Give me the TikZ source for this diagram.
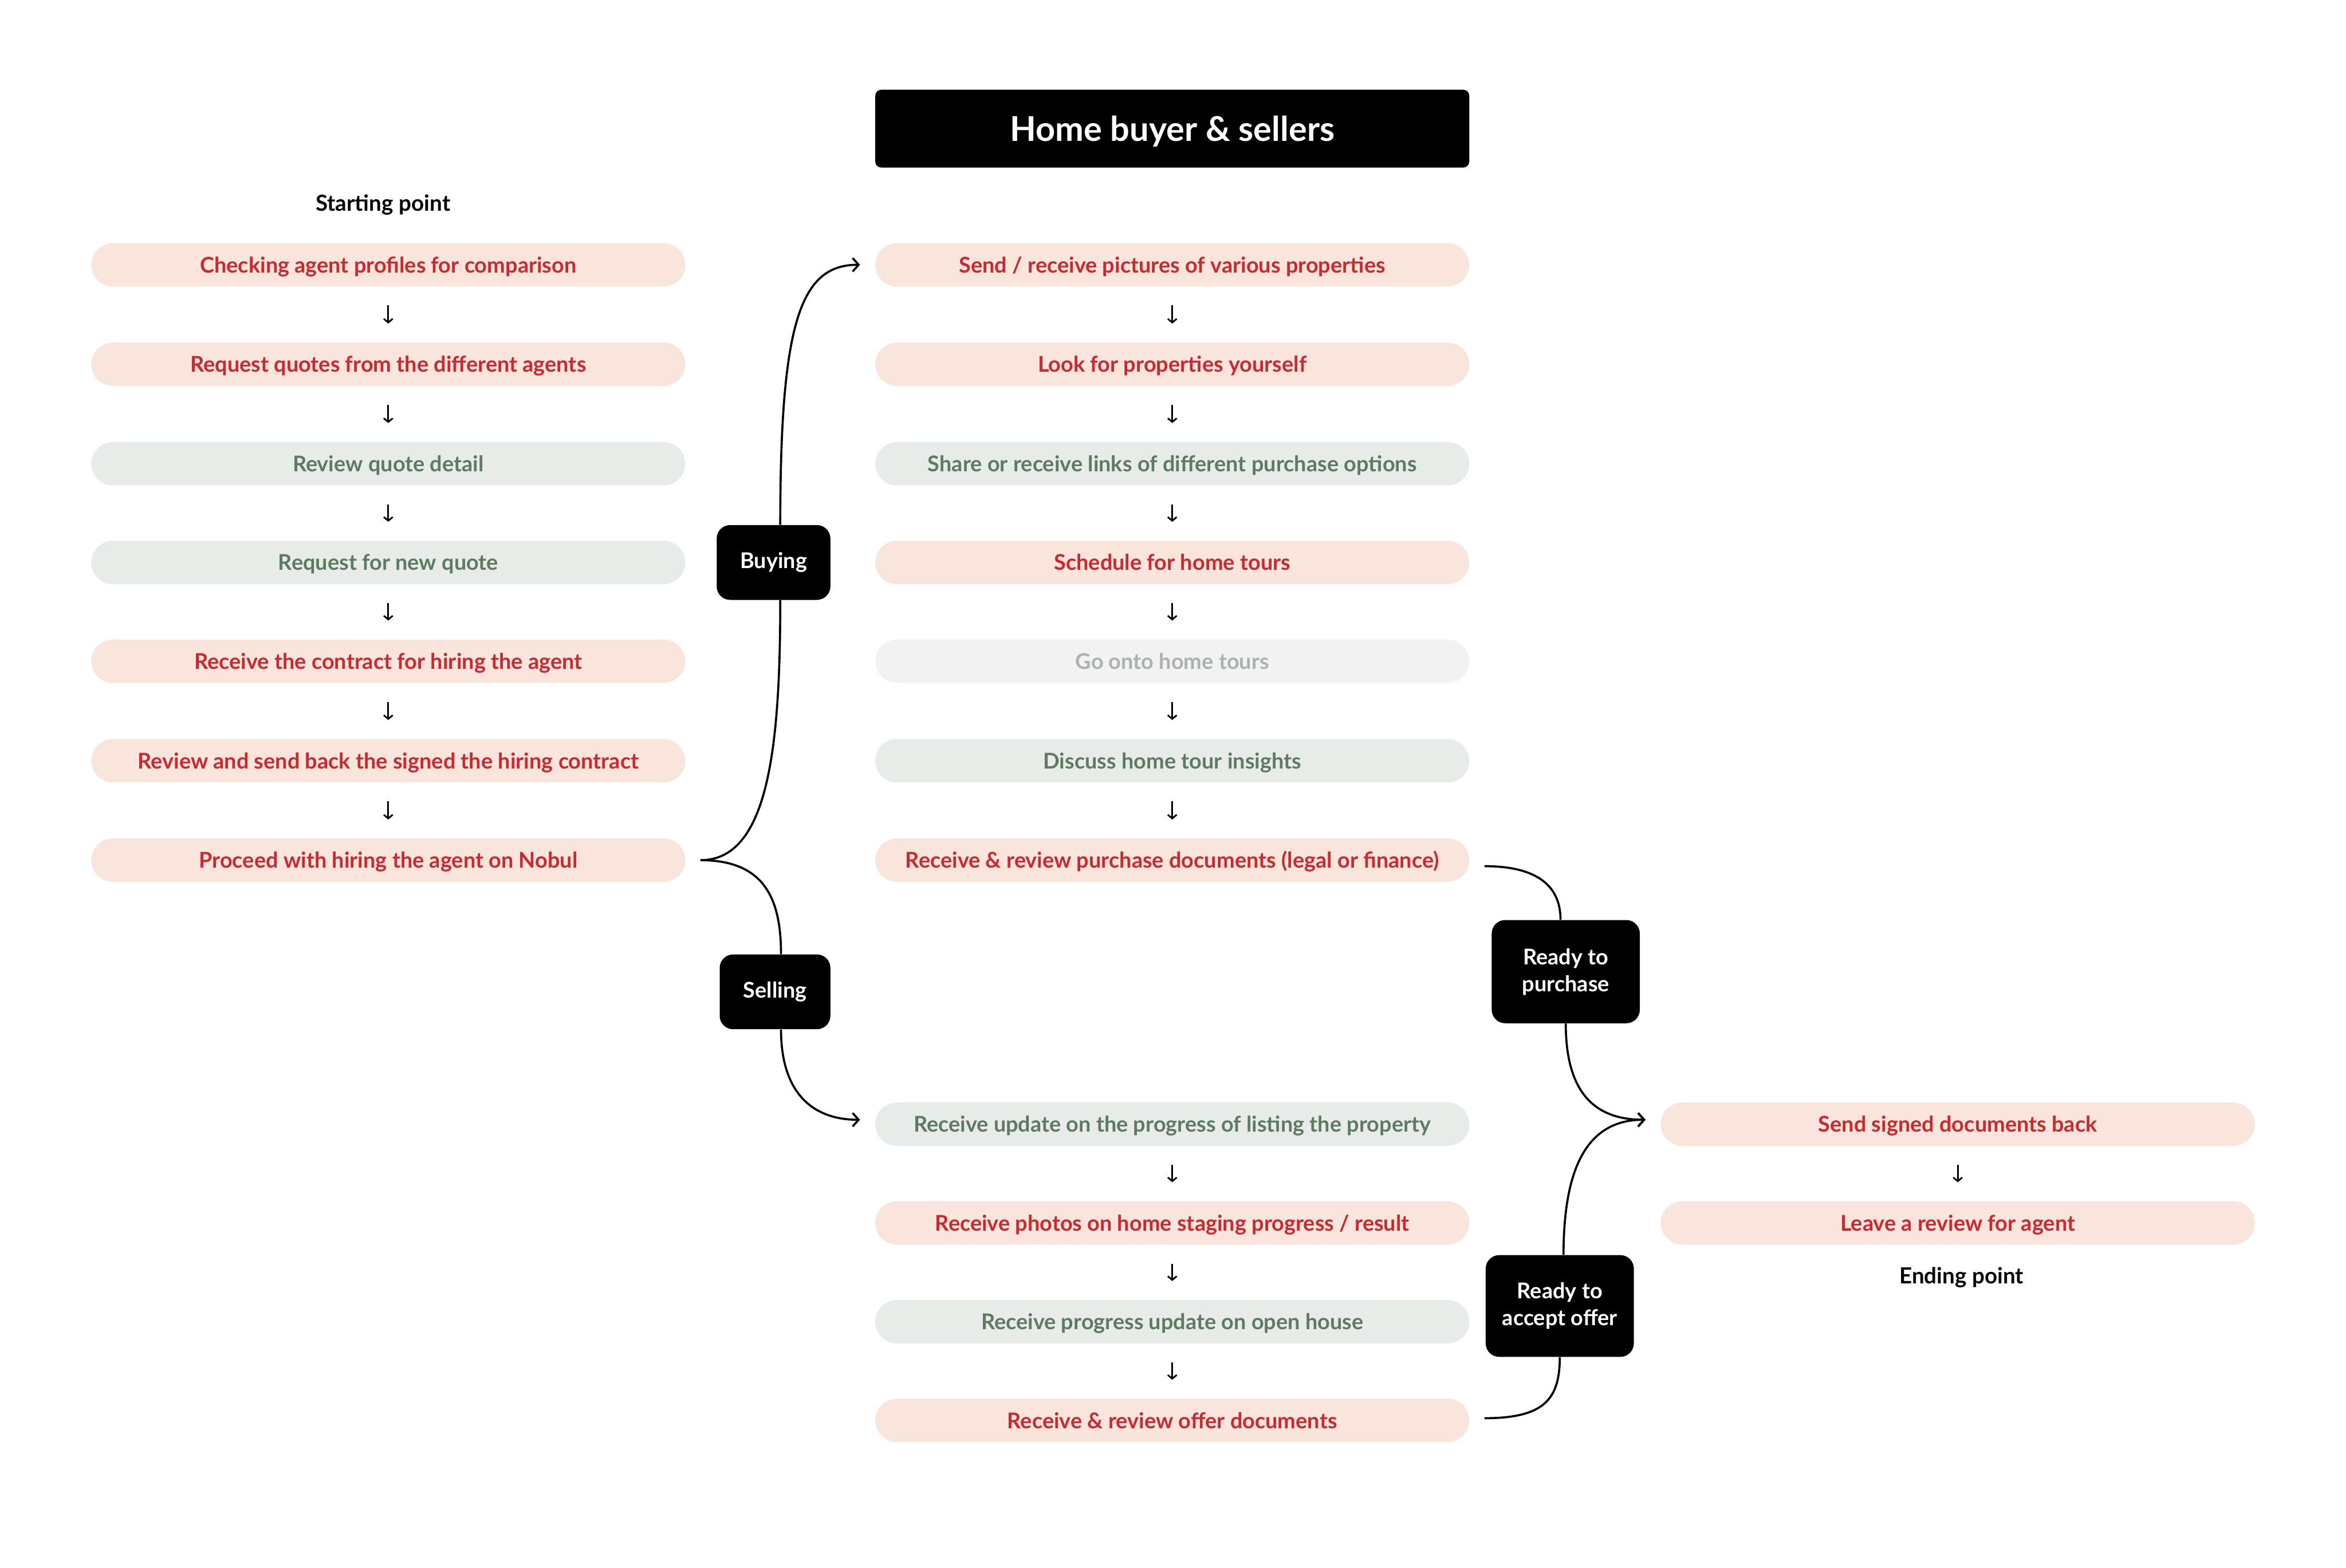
\documentclass[tikz,border=0pt]{standalone}
\usepackage{fontspec}
\setmainfont{Lato}
\usetikzlibrary{arrows.meta}
\definecolor{pinkbg}{HTML}{FAE5DD}
\definecolor{redtx}{HTML}{CD282E}
\definecolor{greenbg}{HTML}{E7ECE8}
\definecolor{greentx}{HTML}{5E7A61}
\definecolor{greybg}{HTML}{F2F2F2}
\definecolor{greytx}{HTML}{A9B3AB}
\tikzset{
  pill/.style={rounded corners=14.5pt, minimum width=397pt, minimum height=29pt, inner sep=0pt, text height=11.5pt, text depth=1pt, font=\fontsize{14.5}{16}\selectfont\bfseries},
  pinkpill/.style={pill, fill=pinkbg, text=redtx},
  greenpill/.style={pill, fill=greenbg, text=greentx},
  greypill/.style={pill, fill=greybg, text=greytx},
  tagbox/.style={fill=black, text=white, rounded corners=9pt, inner sep=0pt, align=center, font=\fontsize{14.5}{18}\selectfont\bfseries},
  plainlabel/.style={font=\fontsize{14.8}{16}\selectfont\bfseries, text=black},
  darr/.style={-{Straight Barb[length=2.5pt,width=6pt]}, line width=1.1pt, shorten <=12.5pt, shorten >=12.5pt},
  flow/.style={line width=1.4pt},
  flowarr/.style={line width=1.4pt, -{Straight Barb[length=4pt,width=9pt]}},
}
\begin{document}
\begin{tikzpicture}[x=1pt,y=-1pt]
\useasboundingbox[fill=white] (0,0) rectangle (1568,1048);
% title
\node[fill=black, text=white, rounded corners=4pt, minimum width=397pt, minimum height=52pt, inner sep=0pt, text height=17.4pt, text depth=1pt, font=\fontsize{22.8}{26}\selectfont\bfseries] (title) at (783.5,86) {Home buyer \& sellers};
\node[plainlabel] (start) at (256,137) {Starting point};
% left column
\node[pinkpill] (l1) at (259.5,177) {Checking agent profiles for comparison};
\node[pinkpill] (l2) at (259.5,243.5) {Request quotes from the different agents};
\node[greenpill] (l3) at (259.5,310) {Review quote detail};
\node[greenpill] (l4) at (259.5,376) {Request for new quote};
\node[pinkpill] (l5) at (259.5,442) {Receive the contract for hiring the agent};
\node[pinkpill] (l6) at (259.5,508.5) {Review and send back the signed the hiring contract};
\node[pinkpill] (l7) at (259.5,575) {Proceed with hiring the agent on Nobul};
% middle buying
\node[pinkpill] (m1) at (783.5,177) {Send / receive pictures of various properties};
\node[pinkpill] (m2) at (783.5,243.5) {Look for properties yourself};
\node[greenpill] (m3) at (783.5,310) {Share or receive links of different purchase options};
\node[pinkpill] (m4) at (783.5,376) {Schedule for home tours};
\node[greypill] (m5) at (783.5,442) {Go onto home tours};
\node[greenpill] (m6) at (783.5,508.5) {Discuss home tour insights};
\node[pinkpill] (m7) at (783.5,575) {Receive \& review purchase documents (legal or finance)};
% middle selling
\node[greenpill] (s1) at (783.5,751.5) {Receive update on the progress of listing the property};
\node[pinkpill] (s2) at (783.5,817.5) {Receive photos on home staging progress / result};
\node[greenpill] (s3) at (783.5,883.5) {Receive progress update on open house};
\node[pinkpill] (s4) at (783.5,949.5) {Receive \& review offer documents};
% right
\node[pinkpill] (r1) at (1308.5,751.5) {Send signed documents back};
\node[pinkpill] (r2) at (1308.5,817.5) {Leave a review for agent};
\node[plainlabel] (endp) at (1311,854) {Ending point};
% tags
\node[tagbox, minimum width=76pt, minimum height=50pt] (buy) at (517,376) {Buying};
\node[tagbox, minimum width=74pt, minimum height=50pt] (sell) at (518,663) {Selling};
\node[tagbox, minimum width=99pt, minimum height=69pt] (rtp) at (1046.5,649.5) {Ready to\\purchase};
\node[tagbox, minimum width=99pt, minimum height=68pt] (rta) at (1042.5,873) {Ready to\\accept offer};
% down arrows
\foreach \a/\b in {l1/l2,l2/l3,l3/l4,l4/l5,l5/l6,l6/l7,m1/m2,m2/m3,m3/m4,m4/m5,m5/m6,m6/m7,s1/s2,s2/s3,s3/s4,r1/r2}
  \draw[darr] (\a) -- (\b);
% branch coordinates
\coordinate (br) at ([xshift=10pt]l7.east);
\coordinate (btip) at ([xshift=-10pt]m1.west);
\coordinate (stip) at ([xshift=-10pt,yshift=3pt]s1.west);
\coordinate (rtip) at ([xshift=-10pt,yshift=3pt]r1.west);
\coordinate (rp0) at ([xshift=10pt,yshift=-4pt]m7.east);
\coordinate (ra0) at ([xshift=10pt,yshift=1.5pt]s4.east);
% buying
\draw[flow] (br) .. controls +(45,0) and +(0,100) .. ([xshift=4.5pt]buy.south);
\draw[flowarr] ([xshift=4.5pt]buy.north) .. controls +(0,-135) and +(-40,0) .. (btip);
% selling
\draw[flow] (br) .. controls +(42,0) and +(0,-38) .. ([xshift=4pt]sell.north);
\draw[flowarr] ([xshift=4pt]sell.south) .. controls +(0,42) and +(-32,0) .. (stip);
% ready to purchase
\draw[flow] (rp0) .. controls +(36,0) and +(0,-22) .. ([xshift=-3.5pt]rtp.north);
\draw[flowarr] (rtp.south) .. controls +(0,45) and +(-35,0) .. (rtip);
% ready to accept
\draw[flow] (ra0) .. controls +(40,0) and +(0,28) .. (rta.south);
\draw[flowarr] ([xshift=2.5pt]rta.north) .. controls +(0,-60) and +(-38,0) .. (rtip);
\end{tikzpicture}
\end{document}
